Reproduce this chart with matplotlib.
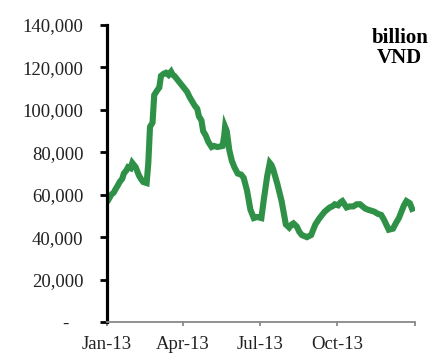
import pandas as pd
import matplotlib
matplotlib.use("Agg")
from matplotlib import pyplot as plt
from matplotlib.ticker import FuncFormatter

# daily series, billion VND
dates = ["2013-01-01", "2013-01-04", "2013-01-06", "2013-01-09", "2013-01-11", "2013-01-14",
         "2013-01-16", "2013-01-19", "2013-01-21", "2013-01-24", "2013-01-26", "2013-01-29",
         "2013-01-31", "2013-02-02", "2013-02-04", "2013-02-08", "2013-02-11", "2013-02-13",
         "2013-02-17", "2013-02-19", "2013-02-21", "2013-02-24", "2013-02-26", "2013-03-02",
         "2013-03-04", "2013-03-06", "2013-03-09", "2013-03-12", "2013-03-15", "2013-03-18",
         "2013-03-20", "2013-03-22", "2013-03-25", "2013-03-28", "2013-03-31", "2013-04-03",
         "2013-04-06", "2013-04-09", "2013-04-12", "2013-04-15", "2013-04-18", "2013-04-20",
         "2013-04-23", "2013-04-25", "2013-04-28", "2013-05-01", "2013-05-05", "2013-05-08",
         "2013-05-12", "2013-05-18", "2013-05-20", "2013-05-21", "2013-05-23", "2013-05-26",
         "2013-05-29", "2013-06-01", "2013-06-05", "2013-06-09", "2013-06-12", "2013-06-16",
         "2013-06-20", "2013-06-24", "2013-06-28", "2013-07-03", "2013-07-06", "2013-07-10",
         "2013-07-13", "2013-07-15", "2013-07-17", "2013-07-22", "2013-07-27", "2013-08-01",
         "2013-08-05", "2013-08-08", "2013-08-10", "2013-08-14", "2013-08-17", "2013-08-20",
         "2013-08-26", "2013-08-31", "2013-09-05", "2013-09-10", "2013-09-13", "2013-09-16",
         "2013-09-22", "2013-09-25", "2013-09-28", "2013-10-02", "2013-10-05", "2013-10-07",
         "2013-10-12", "2013-10-16", "2013-10-20", "2013-10-24", "2013-10-28", "2013-11-03",
         "2013-11-06", "2013-11-10", "2013-11-14", "2013-11-18", "2013-11-22", "2013-11-25",
         "2013-11-28", "2013-12-01", "2013-12-06", "2013-12-10", "2013-12-13", "2013-12-16",
         "2013-12-19", "2013-12-22", "2013-12-24", "2013-12-26", "2013-12-30"]
values = [56500, 58500, 60000, 61000, 62500, 64500,
          66000, 67500, 70000, 71500, 73000, 72500,
          75000, 74000, 73000, 69000, 67000, 66000,
          65500, 75000, 92000, 94000, 107000, 109500,
          110500, 116000, 117000, 117500, 116500, 118000,
          116500, 116000, 114500, 113000, 111500, 110000,
          108500, 106000, 104000, 102000, 100500, 97000,
          95000, 90000, 88000, 85000, 82500, 83000,
          82500, 83000, 88000, 92000, 90000, 81000,
          76000, 73000, 70000, 69500, 68000, 62000,
          53000, 49000, 49500, 49000, 58000, 69000,
          75000, 74000, 72000, 65000, 57000, 46000,
          44500, 46000, 46500, 45000, 42500, 41000,
          40000, 41000, 46000, 49000, 50500, 52000,
          54000, 54500, 55500, 55000, 56500, 57000,
          54000, 54500, 54500, 55500, 55500, 53500,
          53000, 52500, 52000, 51000, 50500, 48500,
          46000, 43500, 44000, 47000, 49000, 52000,
          55000, 57000, 56500, 56000, 52000]

x_ticks = ["2013-01-01", "2013-04-01", "2013-07-01", "2013-10-01", "2014-01-01"]
x_labels = ["Jan-13", "Apr-13", "Jul-13", "Oct-13", ""]
unit = "billion\nVND"

plt.rcParams['font.family'] = ['Liberation Serif', 'DejaVu Serif']

fig = plt.figure(figsize=(4.34, 3.58), dpi=100)
ax = fig.add_axes([0.2465, 0.1006, 0.7095, 0.8294])

ax.plot(pd.to_datetime(dates), values, color="#2e9147", lw=4.4,
        solid_joinstyle="miter", solid_capstyle="butt")

ax.set_ylim(0, 140000)
ax.set_yticks(range(0, 140001, 20000))
ax.yaxis.set_major_formatter(FuncFormatter(lambda v, p: "-   " if v == 0 else f"{int(v):,}"))

ax.set_xlim(pd.Timestamp("2013-01-01"), pd.Timestamp("2014-01-01"))
ax.set_xticks(pd.to_datetime(x_ticks))
ax.set_xticklabels(x_labels)

for s in ["top", "right"]:
    ax.spines[s].set_visible(False)
ax.spines["left"].set_linewidth(2.3)
ax.spines["left"].set_color("black")
ax.spines["bottom"].set_linewidth(1.3)
ax.spines["bottom"].set_color("#888888")

ax.tick_params(axis="y", length=5, width=2, color="black", pad=12, labelsize=13.5, labelcolor="#222222")
ax.tick_params(axis="x", length=3, width=1.3, color="#888888", pad=7, labelsize=13.5, labelcolor="#222222")

ax.text(0.951, 0.99, unit, transform=ax.transAxes, ha="center", va="top",
        fontsize=15, fontweight="bold", linespacing=1.0, multialignment="center")

fig.savefig("out.png", dpi=100)
